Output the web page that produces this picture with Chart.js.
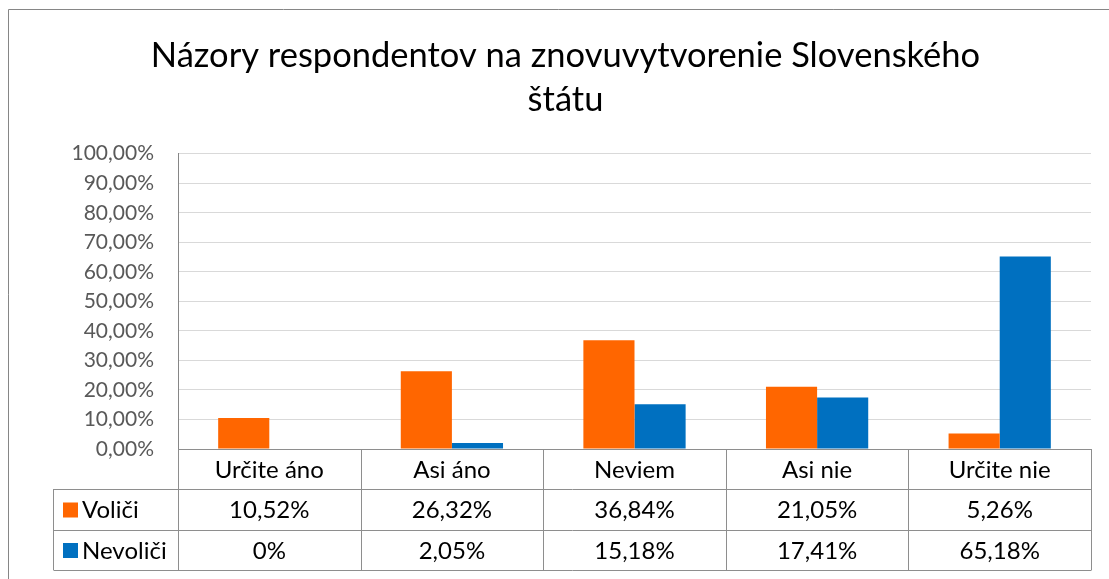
<!DOCTYPE html>
<html>
<head>
<meta charset="utf-8">
<script src="https://cdn.jsdelivr.net/npm/chart.js@4.4.0/dist/chart.umd.min.js"></script>
<style>
  html, body { margin: 0; padding: 0; background: #fff; }
  canvas { display: block; }
</style>
</head>
<body>
<canvas id="graf" width="1109" height="579"></canvas>
<script>
// Data
const kategorie = ["Určite áno", "Asi áno", "Neviem", "Asi nie", "Určite nie"];
const volici = [10.52, 26.32, 36.84, 21.05, 5.26];
const nevolici = [0, 2.05, 15.18, 17.41, 65.18];
const nazvySerii = ["Voliči", "Nevoliči"];
const farby = ["#FF6600", "#0070C0"];
const titulok = ["Názory respondentov na znovuvytvorenie Slovenského", "štátu"];

const font = "Lato, 'Open Sans', sans-serif";
const ciary = "#8e8e8e";

function percenta(v) {
  return v === 0 ? "0%" : v.toFixed(2).replace(".", ",") + "%";
}

// Ramcek okolo grafu
const ramcek = {
  id: "ramcek",
  beforeDraw(chart) {
    const ctx = chart.ctx;
    ctx.save();
    ctx.strokeStyle = "#868686";
    ctx.lineWidth = 1;
    ctx.beginPath();
    ctx.moveTo(8.5, 579);
    ctx.lineTo(8.5, 9.5);
    ctx.lineTo(1109, 9.5);
    ctx.stroke();
    ctx.restore();
  },
};

// Tabulka s udajmi pod grafom
const tabulka = {
  id: "tabulka",
  afterDraw(chart) {
    const ctx = chart.ctx;
    const x = chart.scales.x;
    const area = chart.chartArea;
    const riadky = [area.bottom, area.bottom + 40, area.bottom + 81, area.bottom + 121];
    const lavy = 53;
    const n = kategorie.length;
    const krok = (area.right - area.left) / n;
    const hrany = [];
    for (let i = 0; i <= n; i++) hrany.push(Math.round(area.left + krok * i) + 0.5);

    ctx.save();
    ctx.strokeStyle = ciary;
    ctx.lineWidth = 1;
    ctx.beginPath();
    // vodorovne ciary
    ctx.moveTo(hrany[0], Math.round(riadky[0]) + 0.5);
    ctx.lineTo(hrany[n], Math.round(riadky[0]) + 0.5);
    for (let r = 1; r < riadky.length; r++) {
      ctx.moveTo(lavy + 0.5, Math.round(riadky[r]) + 0.5);
      ctx.lineTo(hrany[n], Math.round(riadky[r]) + 0.5);
    }
    // zvisle ciary
    for (const h of hrany) {
      ctx.moveTo(h, riadky[0]);
      ctx.lineTo(h, riadky[3]);
    }
    ctx.moveTo(lavy + 0.5, riadky[1]);
    ctx.lineTo(lavy + 0.5, riadky[3]);
    ctx.stroke();

    ctx.fillStyle = "#000";
    ctx.textAlign = "center";
    ctx.textBaseline = "middle";
    ctx.font = "24px " + font;
    kategorie.forEach((k, i) => {
      const stred = x.getPixelForValue(i);
      ctx.fillText(k, stred, (riadky[0] + riadky[1]) / 2 + 1);
      chart.data.datasets.forEach((ds, j) => {
        ctx.fillText(percenta(ds.data[i]), stred, (riadky[j + 1] + riadky[j + 2]) / 2 + 1);
      });
    });

    // legenda v lavom stlpci
    ctx.textAlign = "left";
    chart.data.datasets.forEach((ds, j) => {
      const sy = (riadky[j + 1] + riadky[j + 2]) / 2;
      ctx.fillStyle = ds.backgroundColor;
      ctx.fillRect(63, sy - 7, 15, 15);
      ctx.fillStyle = "#000";
      ctx.fillText(ds.label, 82, sy + 1);
    });
    ctx.restore();
  },
};

new Chart(document.getElementById("graf"), {
  type: "bar",
  data: {
    labels: kategorie,
    datasets: [
      { label: nazvySerii[0], data: volici, backgroundColor: farby[0] },
      { label: nazvySerii[1], data: nevolici, backgroundColor: farby[1] },
    ],
  },
  options: {
    responsive: false,
    animation: false,
    layout: { padding: { left: 40, right: 18, top: 0, bottom: 130 } },
    datasets: {
      bar: { categoryPercentage: 0.56, barPercentage: 1 },
    },
    plugins: {
      legend: { display: false },
      tooltip: { enabled: false },
      title: {
        display: true,
        text: titulok,
        color: "#000",
        font: { family: font, size: 34.5, weight: "normal", lineHeight: 1.3 },
        padding: { top: 33, bottom: 31 },
      },
    },
    scales: {
      x: {
        display: false,
      },
      y: {
        min: 0,
        max: 100,
        afterFit(scale) {
          scale.width = 138;
        },
        ticks: {
          stepSize: 10,
          padding: 24,
          color: "#595959",
          font: { family: font, size: 21 },
          callback: (v) => v.toFixed(2).replace(".", ",") + "%",
        },
        grid: { color: "#d9d9d9", drawTicks: false },
        border: { display: true, color: "#868686" },
      },
    },
  },
  plugins: [ramcek, tabulka],
});
</script>
</body>
</html>
